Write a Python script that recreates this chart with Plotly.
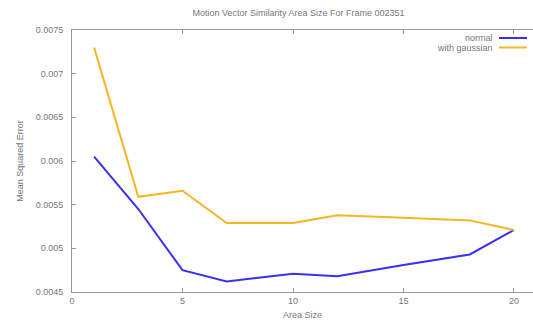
import plotly.graph_objects as go

# Area sizes tested and the resulting mean squared error
area_size = [1, 3, 5, 7, 10, 12, 15, 18, 20]
mse_normal = [0.00605, 0.00545, 0.00475, 0.00462, 0.00471, 0.00468, 0.00481, 0.00493, 0.00521]
mse_gaussian = [0.00730, 0.00559, 0.00566, 0.00529, 0.00529, 0.00538, 0.00535, 0.00532, 0.00521]

series_names = ["normal", "with gaussian"]
series_colors = ["#3b2ff2", "#f6b523"]

x_ticks = [0, 5, 10, 15, 20]
y_ticks = [0.0045, 0.005, 0.0055, 0.006, 0.0065, 0.007, 0.0075]
y_tick_text = ["0.0045", "0.005", "0.0055", "0.006", "0.0065", "0.007", "0.0075"]

FONT = "Liberation Sans, Arial, sans-serif"
GREY = "#777777"

fig = go.Figure()
for name, vals, col in zip(series_names, [mse_normal, mse_gaussian], series_colors):
    fig.add_trace(go.Scatter(x=area_size, y=vals, mode="lines", name=name,
                             line=dict(color=col, width=2), showlegend=False))

# Key in the upper right: right-aligned label followed by a line sample
for i, (name, col) in enumerate(zip(series_names, series_colors)):
    ypix = 38 + i * 9.5
    yp = 1 - (ypix - 30) / 262
    fig.add_annotation(x=(495 - 72) / 461, y=yp, xref="paper", yref="paper",
                       text=name, showarrow=False, xanchor="right", yanchor="middle",
                       font=dict(family=FONT, size=9, color=GREY))
    fig.add_shape(type="line", xref="paper", yref="paper",
                  x0=(499 - 72) / 461, x1=(527 - 72) / 461, y0=yp, y1=yp,
                  line=dict(color=col, width=2))

fig.update_layout(
    width=533, height=329,
    margin=dict(l=72, r=0, t=30, b=37),
    paper_bgcolor="white", plot_bgcolor="white",
    title=dict(text="Motion Vector Similarity Area Size For Frame 002351",
               x=0.56, xanchor="center", y=1 - 13 / 329, yanchor="middle",
               font=dict(family=FONT, size=9, color=GREY)),
    font=dict(family=FONT, size=9, color=GREY),
)
fig.update_xaxes(range=[0, 20.86], tickvals=x_ticks, ticks="inside", ticklen=4,
                 tickcolor="#999999", showline=True, linecolor="#999999", linewidth=1,
                 mirror="ticks", showgrid=False, zeroline=False,
                 title=dict(text="Area Size", standoff=6, font=dict(size=9, color=GREY)),
                 tickfont=dict(size=9, color=GREY))
fig.update_yaxes(range=[0.0045, 0.0075], tickvals=y_ticks, ticktext=y_tick_text,
                 ticks="inside", ticklen=4, tickcolor="#999999", showline=True,
                 linecolor="#999999", linewidth=1, showgrid=False, zeroline=False,
                 ticklabelstandoff=6,
                 title=dict(text="Mean Squared Error", standoff=10, font=dict(size=9, color=GREY)),
                 tickfont=dict(size=9, color=GREY))

fig.write_html("out.html")
